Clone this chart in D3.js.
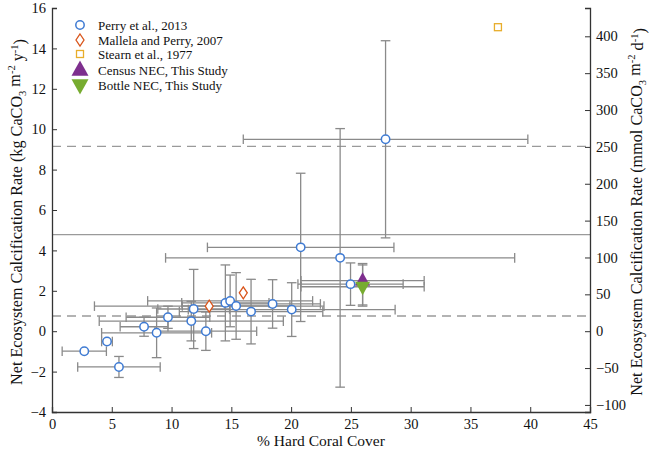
<!DOCTYPE html>
<html><head><meta charset="utf-8">
<script src="https://cdn.jsdelivr.net/npm/d3@7"></script>
<style>body{margin:0;background:#fff}svg{display:block;font-family:"Liberation Serif","Times New Roman",serif}</style>
</head><body><svg id="c" width="653" height="452"></svg>
<script>
// ---- data ----
const xTicks = [0,5,10,15,20,25,30,35,40,45];
const yTicks = [-4,-2,0,2,4,6,8,10,12,14,16];
const y2Ticks = [-100,-50,0,50,100,150,200,250,300,350,400];
const kgToMmol = 27.4;

const perryX    = [2.7, 4.6, 5.6, 7.7, 8.75, 9.7, 11.65, 11.85, 12.87, 14.5, 14.9, 15.4, 16.65, 18.45, 20.05, 20.8, 24.1, 24.97, 27.9];
const perryY    = [-0.99, -0.51, -1.77, 0.22, -0.08, 0.69, 0.5, 1.1, 0.0, 1.4, 1.5, 1.25, 0.97, 1.35, 1.07, 4.15, 3.63, 2.33, 9.5];
const perryXErr = [1.85, 0.45, 3.45, 2.0, 4.6, 3.5, 7.7, 3.0, 4.25, 3.65, 6.9, 4.5, 6.0, 4.0, 8.65, 7.8, 14.6, 4.4, 11.9];
const perryYErr = [0, 0, 0.52, 0.47, 1.23, 0.55, 0.98, 1.96, 0.95, 1.88, 1.28, 1.65, 1.6, 1.2, 1.33, 3.67, 6.4, 1.05, 4.88];

const mallelaX    = [13.15, 16.0];
const mallelaY    = [1.24, 1.9];
const mallelaXErr = [9.6, 0];

const stearnX = [37.3];
const stearnY = [15.05];

const censusX = [25.98], censusY = [2.5], censusXErr = [5.15], censusYLow = [1.3], censusYHigh = [3.35];
const bottleX = [25.98], bottleY = [2.2], bottleXErr = [5.15], bottleYLow = [1.24], bottleYHigh = [3.28];

const meanLine = 4.78;
const sdLines = [9.15, 0.75];

const legendLabels = ["Perry et al., 2013","Mallela and Perry, 2007","Stearn et al., 1977","Census NEC, This Study","Bottle NEC, This Study"];

// ---- layout ----
const svg = d3.select("#c");
const L = 52, R = 590, T = 8, B = 412;
const x = d3.scaleLinear().domain([0,45]).range([L,R]);
const y = d3.scaleLinear().domain([-4,16]).range([B,T]);
const y2 = d3.scaleLinear().domain([-4*kgToMmol,16*kgToMmol]).range([B,T]);

const blue="#3f7bd3", orange="#d9541a", yellow="#e8ad2b", purple="#7e2f8e", green="#77ac30";
const errCol="#8a8a8a", refCol="#9a9a9a";
const serif='"Liberation Serif","Times New Roman",serif';

// reference lines
const gRef = svg.append("g");
gRef.selectAll("line.sd").data(sdLines).join("line").attr("class","sd")
  .attr("x1",L).attr("x2",R).attr("y1",d=>y(d)).attr("y2",d=>y(d))
  .attr("stroke",refCol).attr("stroke-width",1.4).attr("stroke-dasharray","9,6");
gRef.append("line").attr("x1",L).attr("x2",R).attr("y1",y(meanLine)).attr("y2",y(meanLine))
  .attr("stroke",refCol).attr("stroke-width",1.4);

// error bars
const gErr = svg.append("g").attr("stroke",errCol).attr("stroke-width",1.3).attr("fill","none");
const cap = 4.8;
function hbar(cy, lo, hi){
  const yy=y(cy);
  gErr.append("line").attr("x1",x(lo)).attr("x2",x(hi)).attr("y1",yy).attr("y2",yy);
  gErr.append("line").attr("x1",x(lo)).attr("x2",x(lo)).attr("y1",yy-cap).attr("y2",yy+cap);
  gErr.append("line").attr("x1",x(hi)).attr("x2",x(hi)).attr("y1",yy-cap).attr("y2",yy+cap);
}
function vbar(cx, lo, hi){
  const xx=x(cx);
  gErr.append("line").attr("x1",xx).attr("x2",xx).attr("y1",y(lo)).attr("y2",y(hi));
  gErr.append("line").attr("x1",xx-cap).attr("x2",xx+cap).attr("y1",y(lo)).attr("y2",y(lo));
  gErr.append("line").attr("x1",xx-cap).attr("x2",xx+cap).attr("y1",y(hi)).attr("y2",y(hi));
}
perryX.forEach((px,i)=>{
  if(perryXErr[i]>0) hbar(perryY[i], px-perryXErr[i], px+perryXErr[i]);
  if(perryYErr[i]>0) vbar(px, perryY[i]-perryYErr[i], perryY[i]+perryYErr[i]);
});
mallelaX.forEach((px,i)=>{ if(mallelaXErr[i]>0) hbar(mallelaY[i], px-mallelaXErr[i], px+mallelaXErr[i]); });
censusX.forEach((px,i)=>{ hbar(censusY[i], px-censusXErr[i], px+censusXErr[i]); vbar(px, censusYLow[i], censusYHigh[i]); });
bottleX.forEach((px,i)=>{ hbar(bottleY[i], px-bottleXErr[i], px+bottleXErr[i]); vbar(px, bottleYLow[i], bottleYHigh[i]); });

// markers
const gM = svg.append("g");
const tri = 15;
function upTri(cx,cy,s){ const h=s*0.9; return `M${cx},${cy-h*0.62}L${cx+s/2},${cy+h*0.38}L${cx-s/2},${cy+h*0.38}Z`; }
function downTri(cx,cy,s){ const h=s*0.9; return `M${cx},${cy+h*0.62}L${cx+s/2},${cy-h*0.38}L${cx-s/2},${cy-h*0.38}Z`; }
function diamond(cx,cy){ return `M${cx},${cy-6}L${cx+4},${cy}L${cx},${cy+6}L${cx-4},${cy}Z`; }

gM.selectAll("circle.p").data(perryX.map((d,i)=>[d,perryY[i]])).join("circle").attr("class","p")
  .attr("cx",d=>x(d[0])).attr("cy",d=>y(d[1])).attr("r",4.2)
  .attr("fill","#fff").attr("stroke",blue).attr("stroke-width",1.5);
gM.selectAll("path.m").data(mallelaX.map((d,i)=>[d,mallelaY[i]])).join("path").attr("class","m")
  .attr("d",d=>diamond(x(d[0]),y(d[1]))).attr("fill","#fff").attr("stroke",orange).attr("stroke-width",1.3);
gM.selectAll("rect.s").data(stearnX.map((d,i)=>[d,stearnY[i]])).join("rect").attr("class","s")
  .attr("x",d=>x(d[0])-3.5).attr("y",d=>y(d[1])-3.5).attr("width",7).attr("height",7)
  .attr("fill","#fff").attr("stroke",yellow).attr("stroke-width",1.3);
gM.selectAll("path.cn").data(censusX.map((d,i)=>[d,censusY[i]])).join("path").attr("class","cn")
  .attr("d",d=>upTri(x(d[0]),y(d[1]),tri)).attr("fill",purple);
gM.selectAll("path.bt").data(bottleX.map((d,i)=>[d,bottleY[i]])).join("path").attr("class","bt")
  .attr("d",d=>downTri(x(d[0]),y(d[1]),tri)).attr("fill",green);

// axes
const axCol="#333";
const tickFont = 14.5;
const gx = svg.append("g").attr("transform",`translate(0,${B})`)
  .call(d3.axisBottom(x).tickValues(xTicks).tickSize(-5).tickPadding(7).tickFormat(d3.format("d")));
const gy = svg.append("g").attr("transform",`translate(${L},0)`)
  .call(d3.axisLeft(y).tickValues(yTicks).tickSize(-5).tickPadding(6).tickFormat(d3.format("d")));
const gy2 = svg.append("g").attr("transform",`translate(${R},0)`)
  .call(d3.axisRight(y2).tickValues(y2Ticks).tickSize(-5).tickPadding(6).tickFormat(d3.format("d")));
[gx,gy,gy2].forEach(g=>{
  g.attr("font-family",serif);
  g.select(".domain").attr("stroke",axCol).attr("stroke-width",1.3);
  g.selectAll(".tick line").attr("stroke",axCol).attr("stroke-width",1);
  g.selectAll(".tick text").attr("fill","#111").style("font-size",tickFont+"px").style("font-family",serif);
});
gx.selectAll(".tick text").attr("dy","0.7em");

// axis titles
svg.append("text").attr("x",(L+R)/2).attr("y",446).attr("text-anchor","middle")
  .style("font-size","15.5px").style("font-family",serif).attr("fill","#111").text("% Hard Coral Cover");

function yTitle(tx, unitParts){
  const t = svg.append("text").attr("transform",`translate(${tx},${(T+B)/2 + 2}) rotate(-90)`)
    .attr("text-anchor","middle").style("font-size","16.2px").style("font-family",serif).attr("fill","#111");
  unitParts.forEach(p=>{
    const s = t.append("tspan").text(p[0]);
    if(p[1]==="sup"){ s.attr("dy","-0.45em").style("font-size","10.5px"); }
    else if(p[1]==="sub"){ s.attr("dy","0.35em").style("font-size","10.5px"); }
    if(p[2]) s.attr("dy",p[2]);
  });
  return t;
}
yTitle(22, [["Net Ecosystem Calcification Rate (kg CaCO"],["3","sub"],[" m","", "-0.35em"],["-2","sup"],[" y","","0.45em"],["-1","sup"],[")","","0.45em"]]);
yTitle(642, [["Net Ecosystem Calcification Rate (mmol CaCO"],["3","sub"],[" m","", "-0.35em"],["-2","sup"],[" d","","0.45em"],["-1","sup"],[")","","0.45em"]]);

// legend
const lg = svg.append("g");
const lx = 80, rows = [25, 40, 54, 70, 85];
lg.append("circle").attr("cx",lx).attr("cy",rows[0]).attr("r",4.2).attr("fill","#fff").attr("stroke",blue).attr("stroke-width",1.5);
lg.append("path").attr("d",diamond(lx,rows[1])).attr("fill","#fff").attr("stroke",orange).attr("stroke-width",1.3);
lg.append("rect").attr("x",lx-3.5).attr("y",rows[2]-3.5).attr("width",7).attr("height",7).attr("fill","#fff").attr("stroke",yellow).attr("stroke-width",1.3);
lg.append("path").attr("d",upTri(lx,rows[3],17)).attr("fill",purple);
lg.append("path").attr("d",downTri(lx,rows[4],17)).attr("fill",green);
lg.selectAll("text").data(legendLabels).join("text")
  .attr("x",98).attr("y",(d,i)=>rows[i]).attr("dy","0.35em")
  .style("font-size","13px").style("font-family",serif).attr("fill","#111").text(d=>d);
</script></body></html>
